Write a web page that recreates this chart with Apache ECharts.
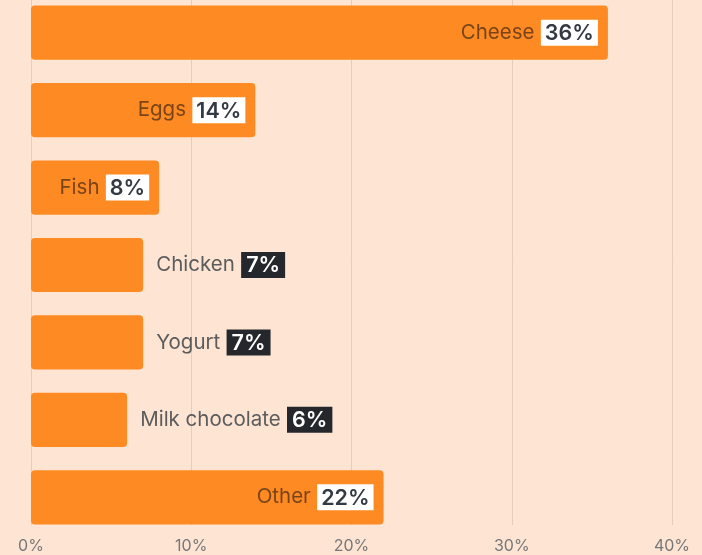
<!DOCTYPE html>
<html><head><meta charset="utf-8">
<script src="https://cdn.jsdelivr.net/npm/echarts@6/dist/echarts.min.js"></script>
<style>html,body{margin:0;padding:0;background:#fde4d3;}#c{width:702px;height:555px;}</style>
</head><body><div id="c"></div>
<script>
const categories = ['Cheese','Eggs','Fish','Chicken','Yogurt','Milk chocolate','Other'];
const values = [36,14,8,7,7,6,22];
const xTicks = [0,10,20,30,40];
const insideThreshold = 8;

const chart = echarts.init(document.getElementById('c'));
const data = values.map((v,i)=>{
  const inside = v >= insideThreshold;
  return {
    value: v,
    label: inside ? {
      position: 'insideRight', distance: 10,
      rich: {
        n: {color:'#7a4418', fontSize:20.5, fontFamily:'Inter', padding:[0,3,0,0]},
        p: {color:'#333a44', backgroundColor:'#ffffff', fontSize:21.5, fontWeight:600, fontFamily:'Inter', padding:[3,4,1,4]}
      }
    } : {
      position: 'right', distance: 13,
      rich: {
        n: {color:'#5c5c5c', fontSize:20.5, fontFamily:'Inter', padding:[0,3,0,0]},
        p: {color:'#ffffff', backgroundColor:'#24282d', fontSize:21.5, fontWeight:600, fontFamily:'Inter', padding:[3,5,1,5]}
      }
    }
  };
});
chart.setOption({
  backgroundColor:'#fde4d3',
  animation:false,
  grid:[
    {left:31, right:30, top:-6, bottom:19, containLabel:false, outerBoundsMode:'none'},
    {left:31, right:30, top:0, bottom:30, containLabel:false, outerBoundsMode:'none'}
  ],
  xAxis:[
    {type:'value', gridIndex:0, min:xTicks[0], max:xTicks[xTicks.length-1], interval:10,
     axisLine:{show:false}, axisTick:{show:false}, splitLine:{show:false},
     axisLabel:{formatter:'{value}%', color:'#777', fontSize:16, fontFamily:'Inter', margin:2}},
    {type:'value', gridIndex:1, min:xTicks[0], max:xTicks[xTicks.length-1], interval:10,
     axisLine:{show:false}, axisTick:{show:false}, axisLabel:{show:false},
     splitLine:{show:true, lineStyle:{color:'#e6cdbb', width:1}}}
  ],
  yAxis:[
    {type:'category', gridIndex:0, data:categories, inverse:true, show:false},
    {type:'value', gridIndex:1, show:false}
  ],
  series:[{
    type:'bar', xAxisIndex:0, yAxisIndex:0, data:data, barCategoryGap:'30%',
    itemStyle:{color:'#fd8a22', borderRadius:4},
    label:{show:true, formatter:(p)=>'{n|'+categories[p.dataIndex]+'} {p|'+p.value+'%}'}
  }]
});
</script></body></html>
